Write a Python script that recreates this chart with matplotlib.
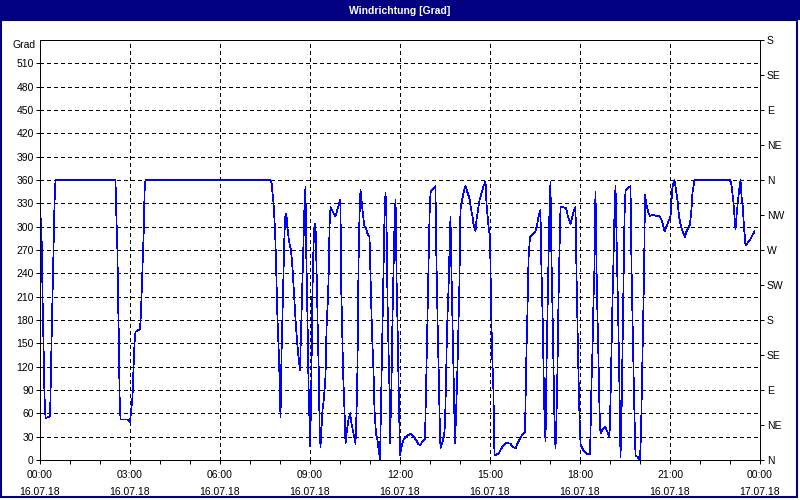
import matplotlib.pyplot as plt
from matplotlib.patches import Rectangle

plt.rcParams['font.family'] = ['Liberation Sans', 'DejaVu Sans']

# Windrichtung, minutes since 16.07.18 00:00 and direction in degrees
minutes = [
    0, 4, 5, 7, 9, 11, 20, 21, 23, 25, 27, 29, 31, 151, 152, 155, 156, 158,
    159, 161, 175, 180, 185, 187, 189, 191, 200, 202, 204, 206, 208, 209, 211,
    460, 463, 467, 469, 471, 473, 475, 478, 480, 481, 483, 485, 487, 489, 491,
    493, 495, 498, 502, 505, 507, 509, 512, 515, 517, 520, 521, 523, 525, 527,
    529, 531, 532, 535, 537, 539, 540, 541, 543, 544, 546, 547, 549, 551, 552,
    554, 556, 558, 559, 561, 563, 565, 568, 571, 573, 576, 578, 579, 581, 586,
    591, 595, 601, 602, 604, 606, 609, 611, 613, 617, 620, 623, 627, 631, 633,
    635, 636, 637, 639, 641, 643, 646, 649, 652, 655, 659, 662, 664, 667, 669,
    672, 675, 677, 680, 681, 683, 685, 687, 689, 691, 693, 695, 697, 699, 700,
    703, 705, 708, 709, 711, 712, 713, 715, 717, 719, 720, 723, 727, 731, 737,
    741, 747, 752, 756, 760, 765, 770, 771, 773, 775, 777, 779, 781, 783, 787,
    791, 792, 794, 796, 798, 799, 801, 804, 808, 810, 812, 814, 817, 819, 821,
    822, 824, 826, 828, 830, 832, 835, 837, 839, 840, 841, 844, 847, 851, 855,
    859, 862, 865, 867, 871, 873, 876, 879, 887, 891, 893, 897, 900, 902, 904,
    907, 908, 909, 917, 921, 927, 933, 941, 945, 951, 957, 963, 970, 971, 973,
    975, 977, 980, 987, 991, 995, 997, 1001, 1002, 1004, 1006, 1007, 1009,
    1011, 1013, 1015, 1017, 1019, 1021, 1022, 1025, 1027, 1029, 1031, 1033,
    1035, 1037, 1039, 1041, 1047, 1052, 1056, 1061, 1065, 1068, 1071, 1073,
    1075, 1077, 1079, 1081, 1083, 1088, 1093, 1100, 1101, 1103, 1105, 1107,
    1109, 1110, 1111, 1113, 1115, 1117, 1119, 1121, 1125, 1130, 1135, 1139,
    1141, 1143, 1145, 1147, 1149, 1151, 1153, 1155, 1157, 1159, 1161, 1163,
    1165, 1167, 1169, 1171, 1177, 1181, 1183, 1185, 1187, 1189, 1191, 1195,
    1200, 1202, 1204, 1206, 1208, 1210, 1213, 1217, 1220, 1227, 1233, 1240,
    1245, 1249, 1253, 1257, 1261, 1263, 1265, 1269, 1272, 1275, 1278, 1282,
    1287, 1290, 1293, 1297, 1300, 1303, 1305, 1309, 1380, 1383, 1387, 1389,
    1391, 1393, 1396, 1399, 1401, 1403, 1405, 1408, 1411, 1415, 1420, 1425,
    1429,
]
grad = [
    330, 270, 210, 150, 82, 54, 56, 82, 150, 210, 270, 330, 360, 360, 330, 265,
    209, 148, 85, 52, 52, 49, 81, 118, 150, 165, 168, 190, 228, 266, 305, 344,
    360, 360, 357, 330, 309, 279, 229, 180, 131, 81, 55, 135, 188, 240, 293,
    317, 315, 298, 281, 270, 247, 225, 202, 171, 146, 133, 116, 140, 188, 231,
    281, 328, 351, 283, 180, 99, 49, 18, 40, 110, 190, 250, 276, 303, 303, 276,
    220, 151, 104, 46, 17, 40, 64, 80, 107, 168, 210, 253, 300, 325, 319, 313,
    323, 335, 231, 180, 116, 64, 21, 34, 52, 60, 47, 34, 21, 60, 120, 187, 250,
    315, 348, 334, 315, 300, 298, 291, 287, 210, 163, 116, 64, 34, 26, 15, 0,
    34, 103, 176, 240, 313, 344, 309, 206, 142, 90, 21, 99, 184, 270, 303, 335,
    303, 236, 176, 103, 39, 6, 17, 26, 30, 32, 34, 30, 26, 21, 19, 24, 27, 60,
    120, 184, 249, 313, 343, 347, 349, 352, 287, 219, 150, 99, 60, 15, 21, 30,
    47, 99, 168, 219, 270, 313, 270, 206, 137, 81, 21, 56, 120, 176, 231, 291,
    323, 333, 344, 352, 344, 336, 323, 313, 303, 294, 309, 321, 334, 352, 358,
    330, 300, 287, 206, 142, 86, 34, 6, 8, 13, 19, 22, 21, 17, 15, 24, 31, 36,
    73, 142, 193, 258, 287, 291, 294, 305, 313, 322, 270, 219, 163, 116, 56,
    24, 120, 193, 258, 323, 358, 291, 193, 120, 47, 15, 56, 120, 206, 270, 325,
    325, 324, 313, 303, 313, 321, 325, 240, 176, 107, 56, 21, 17, 11, 8, 8, 34,
    99, 142, 206, 249, 313, 345, 249, 184, 129, 64, 34, 39, 43, 36, 30, 77,
    142, 206, 258, 319, 352, 291, 227, 163, 90, 4, 56, 142, 223, 313, 347, 351,
    352, 249, 180, 116, 56, 6, 4, 0, 34, 103, 171, 236, 341, 328, 317, 314, 315,
    314, 313, 305, 294, 300, 307, 313, 334, 351, 360, 347, 334, 313, 300, 291,
    287, 294, 298, 303, 323, 344, 360, 360, 354, 330, 313, 297, 313, 334, 351,
    360, 339, 330, 300, 276, 279, 283, 289, 294,
]

y_ticks = list(range(0, 540, 30))
richtung = ['N', 'NE', 'E', 'SE', 'S', 'SW', 'W', 'NW',
            'N', 'NE', 'E', 'SE', 'S']
x_ticks = list(range(0, 25, 3))
datum = ['16.07.18'] * 8 + ['17.07.18']

navy = '#000080'
px = 0.72  # one pixel in points at 100 dpi
hours = [m / 60 for m in minutes]

fig = plt.figure(figsize=(8, 5), dpi=100)
fig.patch.set_facecolor('white')

ax = fig.add_axes([0.05, 0.08, 0.9, 0.84])
ax.plot(hours, grad, color='#0000ff', lw=0.5, antialiased=False, zorder=3)
ax.set_xlim(0, 24)
ax.set_ylim(0, 540)

ax.set_xticks(x_ticks)
ax.set_xticks(range(0, 25), minor=True)
ax.set_xticklabels(['%02d:00\n%s' % (h % 24, d) for h, d in zip(x_ticks, datum)],
                   linespacing=1.9)
ax.set_yticks(y_ticks)
ax.grid(True, color='black', ls=(0, (3, 3)), lw=px, antialiased=False)
ax.tick_params(axis='both', which='both', direction='out', length=3,
               width=px, labelsize=7.5, colors='black')
ax.tick_params(axis='y', pad=1.5)
ax.tick_params(axis='x', pad=4)
for s in ax.spines.values():
    s.set_linewidth(px)

ax2 = ax.twinx()
ax2.set_ylim(0, 540)
ax2.set_yticks(range(0, 541, 45))
ax2.set_yticklabels(richtung)
ax2.tick_params(axis='y', direction='out', length=3, width=px,
                labelsize=7.5, pad=2)
for s in ax2.spines.values():
    s.set_linewidth(px)

fig.text(36 / 800, 1 - 45 / 500, 'Grad', ha='right', va='center',
         fontsize=7.5)

# title bar and window frame
fig.patches.append(Rectangle((0, 0.96), 1, 0.04, transform=fig.transFigure,
                             facecolor=navy, edgecolor='none'))
fig.text(0.5, 0.979, 'Windrichtung [Grad]', color='white', weight='bold',
         ha='center', va='center', fontsize=7.5)
fig.patches.append(Rectangle((1 / 800, 3 / 500), 796 / 800, 477 / 500,
                             transform=fig.transFigure, fill=False,
                             edgecolor=navy, lw=1.5))

fig.savefig('out.png', dpi=100)
